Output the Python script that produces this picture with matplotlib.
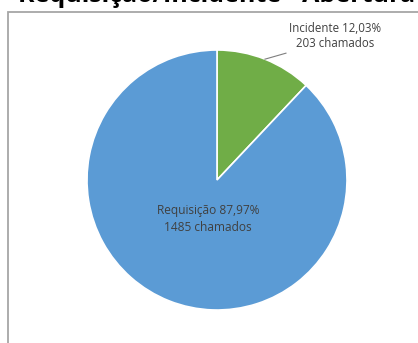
import matplotlib.pyplot as plt
from matplotlib.patches import Rectangle
import numpy as np

# chart data
categorias = ['Incidente', 'Requisição']
chamados = [203, 1485]
percentuais = ['12,03%', '87,97%']
cores = ['#70AD47', '#5B9BD5']

W, H = 418, 343
fig = plt.figure(figsize=(W / 100, H / 100), dpi=100)
ax = fig.add_axes([0, 0, 1, 1])

# chart area border (Excel style, cut by the screenshot)
fig.patches.append(Rectangle((8 / W, -0.1), 1.2, 1.1 - 12 / H, transform=fig.transFigure,
                             fill=False, edgecolor='#A6A6A6', linewidth=1.3))

cx, cy, r = 217, H - 180, 130
wedges, _ = ax.pie(chamados, colors=cores, startangle=90, counterclock=False,
                   center=(cx, cy), radius=r,
                   wedgeprops=dict(edgecolor='white', linewidth=1.2))
ax.set_xlim(0, W)
ax.set_ylim(0, H)
ax.set_aspect('equal')
ax.axis('off')

# Incidente label with leader line
w = wedges[0]
ang = np.deg2rad((w.theta1 + w.theta2) / 2)
px, py = cx + r * np.cos(ang), cy + r * np.sin(ang)
ax.plot([px, px + 21], [py, py + 6], color='#7F7F7F', linewidth=0.8)
ax.text(335, H - 36, f'{categorias[0]} {percentuais[0]}\n{chamados[0]} chamados',
        ha='center', va='center', fontsize=8.3, color='#404040',
        family='Open Sans', linespacing=1.2)

# Requisição label inside the slice
ax.text(208, H - 219, f'{categorias[1]} {percentuais[1]}\n{chamados[1]} chamados',
        ha='center', va='center', fontsize=8.6, color='#404040',
        family='Open Sans', linespacing=1.35)

# title, cut off by the top of the picture like in the screenshot
fig.text(18 / W, 1 + 17 / H, 'Requisição/Incidente - Abertura', ha='left', va='top',
         fontsize=18, fontweight='bold', color='black', family='Open Sans')

fig.savefig('out.png', dpi=100)
